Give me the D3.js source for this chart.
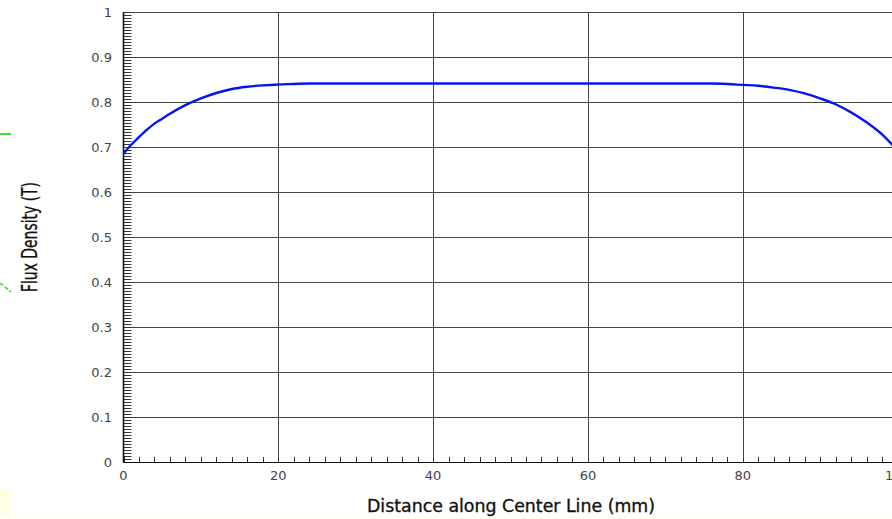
<!DOCTYPE html>
<html>
<head>
<meta charset="utf-8">
<script src="https://cdn.jsdelivr.net/npm/d3@7"></script>
<style>
  body { margin: 0; background: #fff; }
  svg { display: block; }
</style>
</head>
<body>
<div id="chart"></div>
<script>
// flux density along the center line
const distance = [0, 1, 2, 3, 4, 5, 6, 8, 10, 12, 14, 16, 18, 20, 22, 24,
  76, 78, 80, 82, 84, 86, 88, 90, 92, 94, 96, 98, 100];
const flux = [0.685, 0.705, 0.722, 0.738, 0.752, 0.763, 0.774, 0.793, 0.808, 0.820, 0.829, 0.834, 0.837, 0.839, 0.840, 0.841,
  0.841, 0.840, 0.838, 0.836, 0.832, 0.827, 0.819, 0.808, 0.795, 0.777, 0.755, 0.728, 0.692];
const xTicks = [0, 20, 40, 60, 80, 100];
const yTicks = [0, 0.1, 0.2, 0.3, 0.4, 0.5, 0.6, 0.7, 0.8, 0.9, 1];
const yTickLabels = ["0", "0.1", "0.2", "0.3", "0.4", "0.5", "0.6", "0.7", "0.8", "0.9", "1"];

const width = 892, height = 519;
const plotLeft = 123.5, plotTop = 12, plotBottom = 462;

const x = d3.scaleLinear().domain([0, 100]).range([plotLeft, plotLeft + 774]);
const y = d3.scaleLinear().domain([0, 1]).range([plotBottom, plotTop]);

const svg = d3.select("#chart").append("svg")
  .attr("width", width)
  .attr("height", height);

// stray bits at the left edge of the screenshot
svg.append("rect").attr("x", 0).attr("y", 489).attr("width", 11).attr("height", 30).attr("fill", "#fffde2");
svg.append("rect").attr("x", 0).attr("y", 516).attr("width", width).attr("height", 3).attr("fill", "#fffff2");
svg.append("line").attr("x1", 0).attr("x2", 11).attr("y1", 134).attr("y2", 134)
  .attr("stroke", "#44dd33").attr("stroke-width", 2);
svg.append("line").attr("x1", 0).attr("x2", 11).attr("y1", 283).attr("y2", 292)
  .attr("stroke", "#44cc33").attr("stroke-width", 1.5).attr("stroke-dasharray", "4,2");

// grid
const grid = svg.append("g").attr("stroke", "#444").attr("stroke-width", 1);
grid.selectAll(".hg").data(yTicks.filter(d => d > 0)).join("line")
  .attr("x1", plotLeft).attr("x2", width)
  .attr("y1", d => Math.round(y(d)) + 0.5).attr("y2", d => Math.round(y(d)) + 0.5);
grid.selectAll(".vg").data(xTicks.filter(d => d > 0)).join("line")
  .attr("x1", d => Math.round(x(d)) + 0.5).attr("x2", d => Math.round(x(d)) + 0.5)
  .attr("y1", plotTop).attr("y2", plotBottom);

// minor ticks
const yMinor = d3.range(0, 1.0001, 0.1 / 15);
svg.append("g").selectAll("line").data(yMinor).join("line")
  .attr("x1", plotLeft).attr("x2", plotLeft + 8)
  .attr("y1", d => Math.round(y(d)) + 0.5).attr("y2", d => Math.round(y(d)) + 0.5)
  .attr("stroke", "#333").attr("stroke-width", 1);
const xMinor = d3.range(0, 100.001, 2);
svg.append("g").selectAll("line").data(xMinor).join("line")
  .attr("x1", d => Math.round(x(d)) + 0.5).attr("x2", d => Math.round(x(d)) + 0.5)
  .attr("y1", plotBottom).attr("y2", plotBottom - 5)
  .attr("stroke", "#333").attr("stroke-width", 1);

// axes lines
svg.append("line").attr("x1", plotLeft).attr("x2", plotLeft).attr("y1", plotTop).attr("y2", plotBottom + 0.5)
  .attr("stroke", "#111").attr("stroke-width", 1.6);
svg.append("line").attr("x1", plotLeft).attr("x2", width).attr("y1", plotBottom + 0.5).attr("y2", plotBottom + 0.5)
  .attr("stroke", "#111").attr("stroke-width", 1.2);

// tick labels
const tickFont = "'DejaVu Sans', sans-serif";
svg.append("g").selectAll("text").data(yTicks).join("text")
  .attr("x", 112).attr("y", d => y(d) + 4.5)
  .attr("text-anchor", "end")
  .attr("font-family", tickFont).attr("font-size", 13).attr("fill", "#444")
  .text((d, i) => yTickLabels[i]);
svg.append("g").selectAll("text").data(xTicks).join("text")
  .attr("x", d => x(d)).attr("y", 479.5)
  .attr("text-anchor", "middle")
  .attr("font-family", tickFont).attr("font-size", 13).attr("fill", "#444")
  .text(d => d);

// axis titles
const titleFont = "'DejaVu Sans Condensed', 'DejaVu Sans', sans-serif";
svg.append("text")
  .attr("x", 511).attr("y", 512)
  .attr("text-anchor", "middle")
  .attr("font-family", titleFont).attr("font-size", 17).attr("fill", "#111")
  .attr("stroke", "#111").attr("stroke-width", 0.3)
  .attr("textLength", 288).attr("lengthAdjust", "spacingAndGlyphs")
  .text("Distance along Center Line (mm)");
svg.append("text")
  .attr("transform", "translate(37,237) rotate(-90)")
  .attr("text-anchor", "middle")
  .attr("font-family", titleFont).attr("font-size", 21).attr("fill", "#111")
  .attr("stroke", "#111").attr("stroke-width", 0.3)
  .attr("textLength", 110).attr("lengthAdjust", "spacingAndGlyphs")
  .text("Flux Density (T)");

// curve
const line = d3.line()
  .x((d, i) => x(distance[i]))
  .y(d => y(d))
  .curve(d3.curveMonotoneX);
svg.append("path")
  .datum(flux)
  .attr("d", line)
  .attr("fill", "none")
  .attr("stroke", "#0714f2")
  .attr("stroke-width", 2.4);
</script>
</body>
</html>
